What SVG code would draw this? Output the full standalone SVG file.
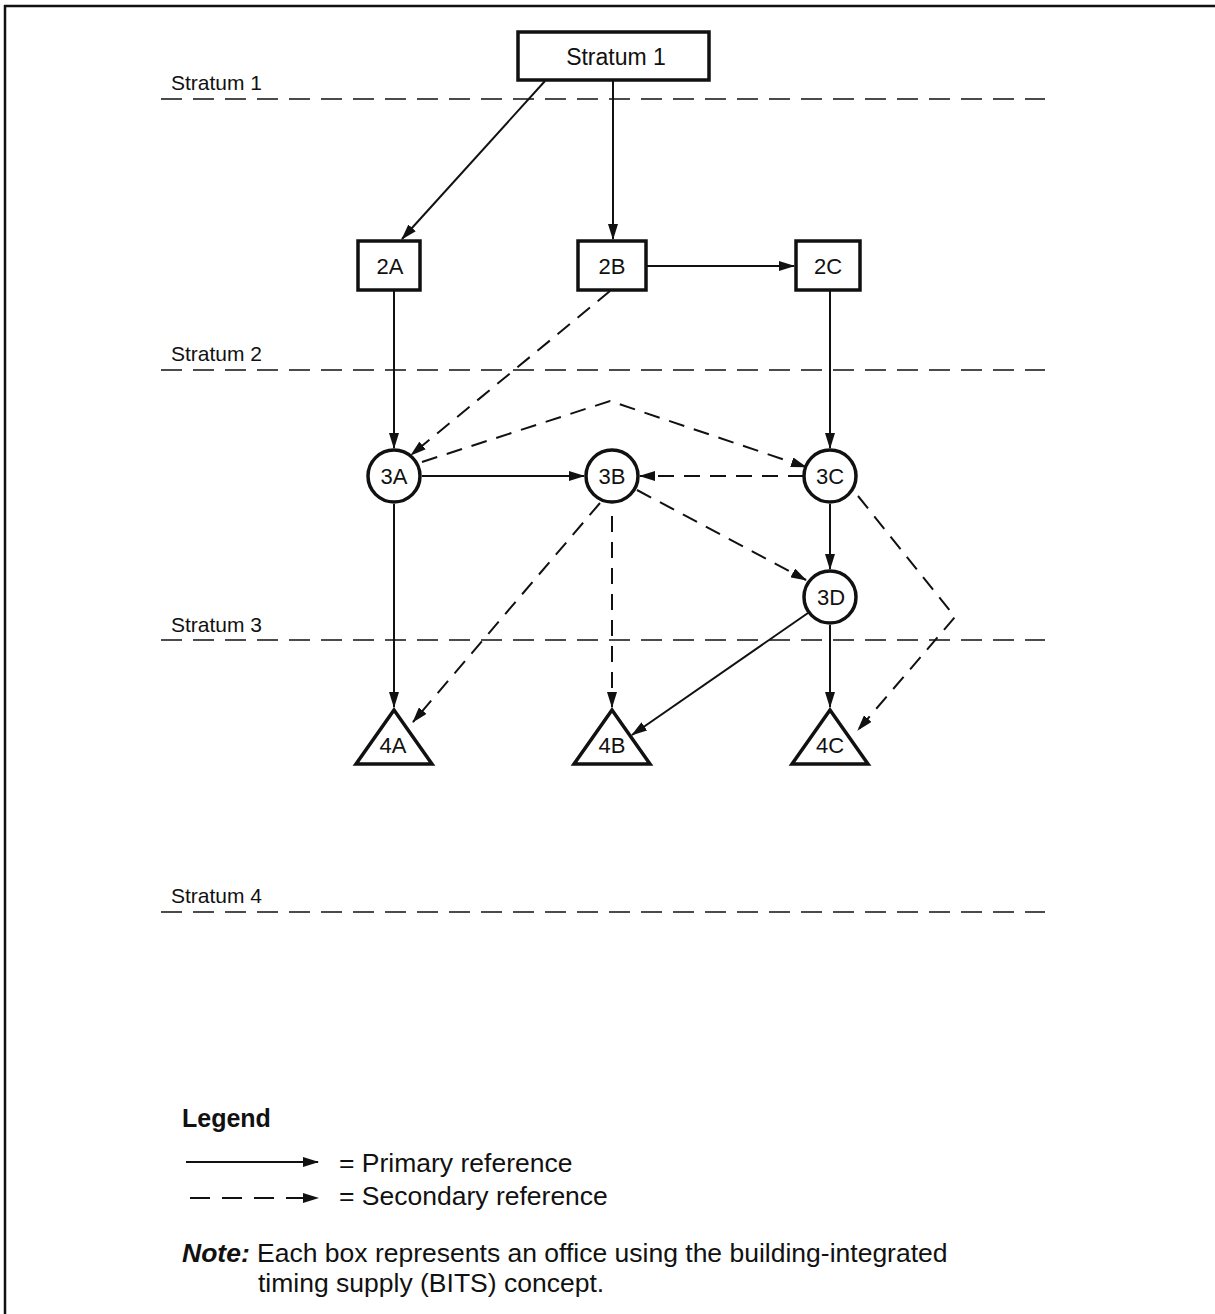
<svg xmlns="http://www.w3.org/2000/svg" width="1215" height="1314" viewBox="0 0 1215 1314">
<style>
text{font-family:"Liberation Sans",Arial,sans-serif;fill:#111}
.lbl{font-size:22px;text-anchor:middle}
.str{font-size:21px}
.node{fill:#fff;stroke:#111;stroke-width:3.5}
.p{fill:none;stroke:#111;stroke-width:2;marker-end:url(#ah)}
.s{fill:none;stroke:#111;stroke-width:2;stroke-dasharray:16 10;marker-end:url(#ah)}
.lvl{stroke:#111;stroke-width:1.3;stroke-dasharray:21 11}
.leg{font-size:26.5px}
</style>
<defs>
<marker id="ah" markerUnits="userSpaceOnUse" markerWidth="16" markerHeight="10" refX="15" refY="5" orient="auto">
<path d="M0,0 L16,5 L0,10 Z" fill="#111"/>
</marker>
</defs>
<g id="frame">
<line x1="4" y1="6" x2="1215" y2="6" stroke="#111" stroke-width="2.5"/>
<line x1="5" y1="5" x2="5" y2="1314" stroke="#111" stroke-width="2.5"/>
</g>
<g id="levels">
<line class="lvl" x1="161" y1="99" x2="1045" y2="99"/>
<line class="lvl" x1="161" y1="370" x2="1045" y2="370"/>
<line class="lvl" x1="161" y1="640" x2="1045" y2="640"/>
<line class="lvl" x1="161" y1="912" x2="1045" y2="912"/>
<text class="str" x="171" y="90">Stratum 1</text>
<text class="str" x="171" y="361">Stratum 2</text>
<text class="str" x="171" y="632">Stratum 3</text>
<text class="str" x="171" y="903">Stratum 4</text>
</g>
<g id="connectors">
<line class="p" x1="545" y1="81" x2="402" y2="239"/>
<line class="p" x1="613" y1="81" x2="613" y2="239"/>
<line class="p" x1="647" y1="266" x2="794" y2="266"/>
<line class="p" x1="394" y1="291" x2="394" y2="448"/>
<line class="p" x1="830" y1="291" x2="830" y2="448"/>
<line class="s" x1="610" y1="291" x2="411" y2="455"/>
<polyline class="s" points="422,462 610,401 806,467"/>
<line class="p" x1="422" y1="476" x2="584" y2="476"/>
<line class="s" x1="804" y1="476" x2="640" y2="476"/>
<line class="s" x1="637" y1="490" x2="806" y2="580"/>
<line class="p" x1="830" y1="504" x2="830" y2="569"/>
<line class="p" x1="394" y1="504" x2="394" y2="707"/>
<line class="s" x1="600" y1="503" x2="413" y2="722"/>
<line class="s" x1="612" y1="516" x2="612" y2="707"/>
<line class="p" x1="808" y1="613" x2="632" y2="735"/>
<line class="p" x1="830" y1="625" x2="830" y2="707"/>
<polyline class="s" points="858,496 955,617 858,730"/>
</g>
<g id="n-stratum1"><rect class="node" x="518" y="32" width="191" height="48"/><text class="lbl" x="616" y="65" style="font-size:23px">Stratum 1</text></g>
<g id="n-2A"><rect class="node" x="358" y="241" width="62" height="49"/><text class="lbl" x="390" y="274">2A</text></g>
<g id="n-2B"><rect class="node" x="578" y="241" width="68" height="49"/><text class="lbl" x="612" y="274">2B</text></g>
<g id="n-2C"><rect class="node" x="796" y="241" width="64" height="49"/><text class="lbl" x="828" y="274">2C</text></g>
<g id="n-3A"><circle class="node" cx="394" cy="476" r="26"/><text class="lbl" x="394" y="484">3A</text></g>
<g id="n-3B"><circle class="node" cx="612" cy="476" r="26"/><text class="lbl" x="612" y="484">3B</text></g>
<g id="n-3C"><circle class="node" cx="830" cy="476" r="26"/><text class="lbl" x="830" y="484">3C</text></g>
<g id="n-3D"><circle class="node" cx="830" cy="597" r="26"/><text class="lbl" x="831" y="605">3D</text></g>
<g id="n-4A"><polygon class="node" points="394,710 356,764 432,764"/><text class="lbl" x="393" y="753">4A</text></g>
<g id="n-4B"><polygon class="node" points="612,710 574,764 650,764"/><text class="lbl" x="612" y="753">4B</text></g>
<g id="n-4C"><polygon class="node" points="830,710 792,764 868,764"/><text class="lbl" x="830" y="753">4C</text></g>
<g id="legend">
<text x="182" y="1127" style="font-size:25px;font-weight:bold">Legend</text>
<line class="p" x1="186" y1="1162" x2="318" y2="1162"/>
<line class="s" x1="190" y1="1198" x2="318" y2="1198" style="stroke-dasharray:20 12"/>
<text class="leg" x="339" y="1172">= Primary reference</text>
<text class="leg" x="339" y="1205">= Secondary reference</text>
<text class="leg" x="182" y="1262"><tspan style="font-weight:bold;font-style:italic">Note:</tspan> Each box represents an office using the building-integrated</text>
<text class="leg" x="258" y="1292">timing supply (BITS) concept.</text>
</g>
</svg>
